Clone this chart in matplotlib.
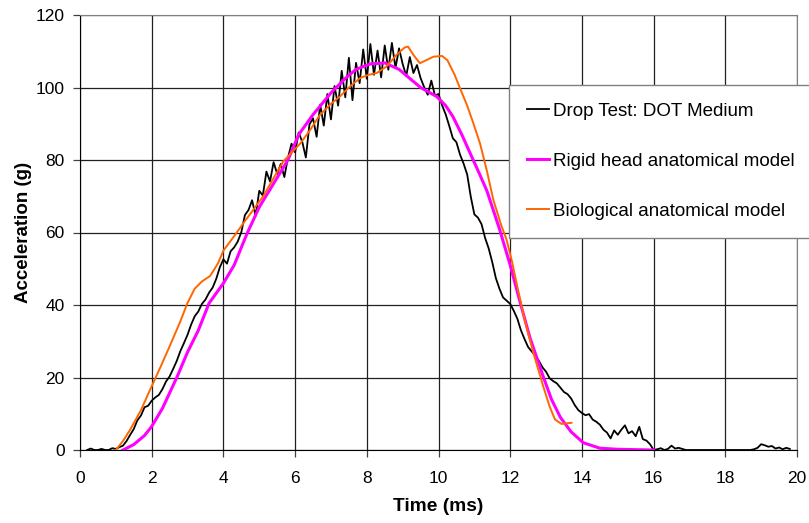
import numpy as np
import matplotlib.pyplot as plt

plt.rcParams['font.family'] = ['Liberation Sans', 'DejaVu Sans']

# Drop test, sampled every 0.1 ms starting at 0.2 ms
drop_t0 = 0.2
drop_dt = 0.1
drop_g = [
    0, 0.4, 0, 0, 0.3, 0, 0, 0.5,
    0.3, 0.8, 1.2, 2.5, 4.2, 5.8, 8.2, 9.5, 11.8, 12.2,
    13.6, 14.5, 15.2, 16.8, 18.9, 20.3, 22.4, 24.6, 27.3, 29.5,
    31.8, 34.6, 36.9, 38.2, 40.3, 41.5, 43.4, 44.8, 47.2, 50.4,
    52.6, 51.4, 54.8, 55.9, 57.5, 60.1, 64.8, 66.2, 68.9, 64.6,
    71.5, 70.2, 76.8, 74.1, 79.4, 76.2, 78.9, 75.3, 80.6, 84.5,
    82.1, 87.6, 85.0, 80.7, 89.8, 91.5, 86.4, 95.3, 89.5, 98.2,
    91.2, 100.4, 95.0, 104.6, 97.3, 108.2, 96.5, 106.8, 101.2, 110.5,
    102.4, 112.0, 103.5, 110.2, 102.8, 111.6, 104.9, 112.3, 105.4, 110.8,
    106.5, 103.2, 108.4, 104.0, 106.2, 102.6, 100.1, 98.0, 101.9, 97.8,
    98.2, 95.1, 92.6, 89.4, 86.0, 84.9, 81.5, 79.0, 76.0, 69.9,
    65.0, 64.1, 62.3, 58.5, 55.6, 51.8, 47.4, 44.5, 42.1, 41.2,
    40.3, 38.4, 36.2, 33.0, 30.6, 28.4, 27.2, 26.0, 24.6, 22.8,
    21.6, 19.8, 19.0, 18.4, 17.2, 16.0, 15.4, 14.2, 12.4, 11.0,
    10.2, 9.6, 9.9, 8.4, 7.8, 7.0, 5.6, 4.8, 3.2, 5.4,
    4.2, 5.6, 6.8, 4.6, 5.2, 3.8, 6.4, 3.0, 2.6, 1.6,
    0, 0.2, 0.5, 0, 0.3, 1.2, 0.4, 0.6, 0.3, 0,
    0, 0, 0, 0, 0, 0, 0, 0, 0, 0,
    0, 0, 0, 0, 0, 0, 0, 0, 0.2, 0.6,
    1.6, 1.3, 0.9, 1.1, 0.4, 0.7, 0.2, 0.6, 0.3,
]
drop_t = drop_t0 + drop_dt * np.arange(len(drop_g))

# rigid head model
rigid_t = [1.2, 1.5, 1.8, 2.0, 2.3, 2.7, 3.0, 3.3, 3.6, 4.0, 4.3, 4.65, 5.0,
           5.4, 5.8, 6.1, 6.5, 7.0, 7.4, 7.7, 8.1, 8.5, 8.9, 9.2, 9.5, 9.95,
           10.2, 10.4, 10.65, 10.9, 11.15, 11.35, 11.7, 12.0, 12.27, 12.55,
           12.92, 13.15, 13.4, 13.7, 14.04, 14.5, 15.0, 16.0]
rigid_g = [0, 1.5, 4, 6.5, 11.5, 20, 27, 33, 40.5, 46, 51, 59.5, 67,
           73.5, 80, 87, 92.5, 98.5, 102.5, 105, 106.5, 106.8, 105, 102.5, 100, 97.5,
           95, 92, 87, 81.5, 76, 71.5, 61, 51, 41, 31,
           20.3, 14, 9, 5, 2, 0.5, 0.2, 0]

# biological model
bio_t = [1.0, 1.2, 1.4, 1.7, 2.0, 2.25, 2.5, 2.8, 3.0, 3.2, 3.4, 3.63, 3.85,
         4.0, 4.3, 4.56, 4.85, 5.11, 5.4, 5.67, 5.9, 6.14, 6.4, 6.69, 7.0,
         7.25, 7.5, 7.81, 8.05, 8.28, 8.55, 8.83, 9.05, 9.15, 9.3, 9.48, 9.65,
         9.86, 10.1, 10.25, 10.45, 10.6, 10.8, 10.97, 11.16, 11.35, 11.53,
         11.75, 11.9, 12.05, 12.2, 12.4, 12.64, 12.92, 13.1, 13.25, 13.43, 13.71]
bio_g = [0, 2.5, 5.6, 11, 17.6, 23, 28.6, 35.5, 40.6, 44.5, 46.5, 48, 51.5,
         55, 59, 62.6, 66.5, 70, 75, 79.6, 82, 84.5, 88, 92.4, 95.5,
         97.5, 100, 102.6, 103.5, 104, 105.8, 109, 111, 111.3, 109, 106.7, 107.5,
         108.5, 108.7, 107.5, 103.5, 99.8, 95, 90.2, 84.5, 77, 69,
         62, 58, 52, 45, 36, 27, 17.6, 12, 8.4, 7.2, 7.5]

fig = plt.figure(figsize=(8.09, 5.23), dpi=100)
ax = fig.add_axes([80/809, 1-450/523, 717/809, 435/523])

ax.plot(drop_t, drop_g, color='black', lw=1.3, label='Drop Test: DOT Medium')
ax.plot(rigid_t, rigid_g, color='#FF00FF', lw=2.2, label='Rigid head anatomical model')
ax.plot(bio_t, bio_g, color='#FF6600', lw=1.4, label='Biological anatomical model')

ax.set_xlim(0, 20)
ax.set_ylim(0, 120)
ax.set_xticks(range(0, 21, 2))
ax.set_yticks(range(0, 121, 20))
ax.grid(True, color='#202020', lw=0.9)
ax.set_axisbelow(True)
ax.tick_params(labelsize=12.5, length=5, width=0.9, color='#404040')
ax.tick_params(axis='x', pad=10)
ax.tick_params(axis='y', pad=6)
ax.spines['left'].set_color('black')
ax.spines['bottom'].set_color('black')
ax.spines['top'].set_color('#808080')
ax.spines['right'].set_color('#808080')

ax.set_xlabel('Time (ms)', fontsize=13.8, fontweight='bold', labelpad=9)
ax.set_ylabel('Acceleration (g)', fontsize=13.5, fontweight='bold', labelpad=3)

leg = fig.legend(loc='upper left', bbox_to_anchor=(509/809, 1-85/523),
                 borderaxespad=0, fontsize=13.5, frameon=True, fancybox=False,
                 edgecolor='#808080', framealpha=1, labelspacing=1.75,
                 handlelength=1.2, handletextpad=0.2, borderpad=0.95)
leg.get_frame().set_linewidth(1.0)

fig.savefig('out.png', dpi=100)
